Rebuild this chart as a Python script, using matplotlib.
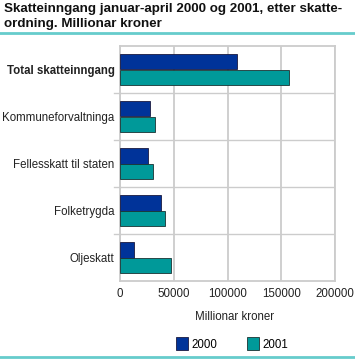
import matplotlib
matplotlib.use("Agg")
import matplotlib.pyplot as plt
import numpy as np
from matplotlib.patches import Rectangle
from matplotlib.lines import Line2D

categories = ["Total skatteinngang", "Kommuneforvaltninga", "Fellesskatt til staten", "Folketrygda", "Oljeskatt"]
values_2000 = [109000, 27500, 25700, 37800, 13300]
values_2001 = [157000, 32300, 31000, 41600, 47100]
series_labels = ["2000", "2001"]
xticks = [0, 50000, 100000, 150000, 200000]

col2000 = "#003399"
col2001 = "#009999"
grid = "#cccccc"

plt.rcParams['font.family'] = ['Liberation Sans', 'DejaVu Sans']
fig = plt.figure(figsize=(3.55, 3.61), dpi=100)
ax = fig.add_axes([120/355, 1-281/361, 215/355, 235/361])

y = np.arange(len(categories))
h = 0.34
ax.barh(y - h/2, values_2000, height=h, color=col2000, edgecolor="#1a1a40", linewidth=0.6, zorder=3)
ax.barh(y + h/2, values_2001, height=h, color=col2001, edgecolor="#1a3333", linewidth=0.6, zorder=3)

ax.set_xlim(0, 200000)
ax.set_ylim(len(categories) - 0.5, -0.5)
ax.set_xticks(xticks)
ax.set_xticklabels([str(t) for t in xticks], fontsize=8.3, color="#222222")
ax.set_yticks(y)
ax.set_yticklabels(categories, fontsize=8.3, color="#222222")
ax.get_yticklabels()[0].set_fontweight("bold")
ax.tick_params(axis="both", length=0, pad=4)
ax.tick_params(axis="x", pad=5)
ax.xaxis.grid(True, color=grid, linewidth=1.3, zorder=0)
for b in np.arange(0.5, len(categories) - 0.5, 1):
    ax.axhline(b, color=grid, linewidth=1.0, zorder=1)
    ax.plot([-0.03, 0], [b, b], transform=ax.get_yaxis_transform(), color=grid, linewidth=1.0, clip_on=False)
for s in ax.spines.values():
    s.set_color(grid)
    s.set_linewidth(1.3)

fig.text(235/355, 1-317/361, "Millionar kroner", fontsize=8.3, ha="center", va="center", color="#222222")

# legend
handles = [Rectangle((0, 0), 1, 1, facecolor=col2000, edgecolor="#1a1a40", linewidth=0.6),
           Rectangle((0, 0), 1, 1, facecolor=col2001, edgecolor="#1a3333", linewidth=0.6)]
fig.legend(handles, series_labels, loc="center", bbox_to_anchor=(232/355, 1-344/361), ncol=2,
           frameon=False, fontsize=8.3, handlelength=1.0, handleheight=1.3, columnspacing=2.6, handletextpad=0.3)

fig.text(4/355, 1-9/361, "Skatteinngang januar-april 2000 og 2001, etter skatte-", fontsize=9.6,
         fontweight="bold", ha="left", va="center", color="#111111")
fig.text(4/355, 1-24/361, "ordning. Millionar kroner", fontsize=9.6,
         fontweight="bold", ha="left", va="center", color="#111111")
fig.add_artist(Line2D([0, 1], [1-33/361, 1-33/361], transform=fig.transFigure, color="#66cccc", linewidth=2))
fig.add_artist(Line2D([0, 1], [1-357/361, 1-357/361], transform=fig.transFigure, color="#66cccc", linewidth=2))

fig.savefig("out.png", dpi=100)
